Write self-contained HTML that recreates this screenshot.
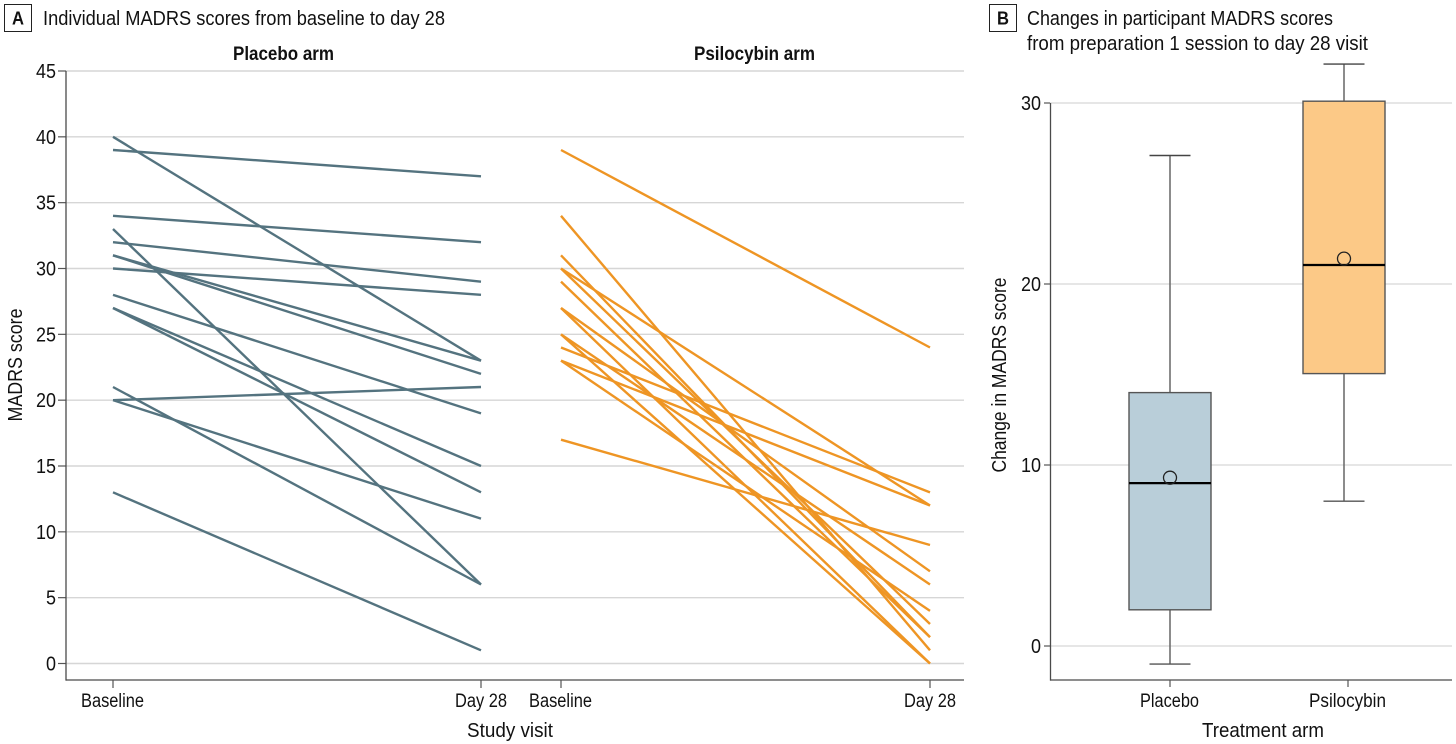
<!DOCTYPE html>
<html lang="en">
<head>
<meta charset="utf-8">
<title>MADRS scores</title>
<style>
html,body{margin:0;padding:0;background:#fff;}
svg{display:block;}
text{font-family:"Liberation Sans Narrow","Liberation Sans",sans-serif;fill:#111;}
</style>
</head>
<body>
<svg id="chart" width="1456" height="744" viewBox="0 0 1456 744" xmlns="http://www.w3.org/2000/svg"></svg>
<script>
// Panel A data
const placeboBaseline = [40, 39, 34, 33, 32, 31, 31, 30, 28, 27, 27, 21, 20, 20, 13];
const placeboDay28    = [23, 37, 32,  6, 29, 23, 22, 28, 19, 15, 13,  6, 21, 11,  1];
const psilocybinBaseline = [39, 34, 31, 30, 30, 29, 27, 27, 25, 25, 24, 23, 23, 17];
const psilocybinDay28    = [24,  1,  2, 12,  3,  2,  7,  0,  0,  6, 13, 12,  4,  9];
const scoreTicks = [0, 5, 10, 15, 20, 25, 30, 35, 40, 45];
const visitLabels = ['Baseline', 'Day 28'];

// Panel B data
const boxCategories = ['Placebo', 'Psilocybin'];
const boxWhiskerLow = [-1, 8];
const boxQ1 = [2, 15.05];
const boxMedian = [9, 21.05];
const boxMean = [9.3, 21.4];
const boxQ3 = [14, 30.1];
const boxWhiskerHigh = [27.1, 32.15];
const changeTicks = [0, 10, 20, 30];

const NS = 'http://www.w3.org/2000/svg';
const svg = document.getElementById('chart');

function scaleA(v) { return 663.5 - v * (592.5 / 45); }
function scaleB(v) { return 646 - v * (543 / 30); }
function placeboX(i) { return 113 + i * 368; }
function psilocybinX(i) { return 561 + i * 369; }
function boxX(i) { return 1170 + i * 174; }

function make(tag, attrs) {
  const el = document.createElementNS(NS, tag);
  for (const k in attrs) el.setAttribute(k, attrs[k]);
  svg.appendChild(el);
  return el;
}
function line(x1, y1, x2, y2, stroke, w) {
  return make('line', {x1: x1, y1: y1, x2: x2, y2: y2, stroke: stroke, 'stroke-width': w});
}
function label(str, x, y, anchor, size, width, weight) {
  const el = make('text', {x: x, y: y, 'text-anchor': anchor, 'font-size': size, textLength: width, lengthAdjust: 'spacingAndGlyphs'});
  if (weight) el.setAttribute('font-weight', weight);
  el.textContent = str;
  return el;
}

const GRID = '#d6d6d6', AXIS = '#4a4a4a', TICK = '#555';
const SLATE = '#54737f', ORANGE = '#ee9524';
let el;

// Panel badges and titles
el = make('rect', {x: 4.5, y: 4.5, width: 27, height: 27, fill: '#fff', stroke: '#222', 'stroke-width': 1});


el = label('A', 18, 24.5, 'middle', 18, 12, 'bold');


el = label('Individual MADRS scores from baseline to day 28', 43, 25, 'start', 20, 402);


el = make('rect', {x: 989.5, y: 4.5, width: 27, height: 27, fill: '#fff', stroke: '#222', 'stroke-width': 1});


el = label('B', 1003, 24.5, 'middle', 18, 12, 'bold');


el = label('Changes in participant MADRS scores', 1027, 25, 'start', 20, 306);


el = label('from preparation 1 session to day 28 visit', 1027, 50, 'start', 20, 341);


el = label('Placebo arm', 283.5, 60, 'middle', 19, 101, 'bold');


el = label('Psilocybin arm', 754.5, 60, 'middle', 19, 121, 'bold');



// Panel A grid and y axis
scoreTicks.forEach(function (t) {
  const y = scaleA(t);
  el = line(66, y, 964, y, GRID, 1.4);
  
  
  el = line(58, y, 66, y, TICK, 1.2);
  
  
  el = label(String(t), 56, y + 7, 'end', 20, String(t).length * 10);
  
  
});
el = line(66, 71, 66, 680.6, AXIS, 1.3);


el = line(66, 680, 964, 680, AXIS, 1.3);



// Panel A x ticks
[placeboX, psilocybinX].forEach(function (fx) {
  visitLabels.forEach(function (name, i) {
    const x = fx(i);
    el = line(x, 680, x, 688, TICK, 1.2);
    
    
    el = label(name, x - 0.5 + i * 0.5, 707, 'middle', 19, i === 0 ? 63 : 52);
    
    
  });
});

// Panel A series
placeboBaseline.forEach(function (v, i) {
  el = line(placeboX(0), scaleA(v), placeboX(1), scaleA(placeboDay28[i]), SLATE, 2.4);
  
  
});
psilocybinBaseline.forEach(function (v, i) {
  el = line(psilocybinX(0), scaleA(v), psilocybinX(1), scaleA(psilocybinDay28[i]), ORANGE, 2.4);
  
  
});

el = label('Study visit', 510, 737, 'middle', 20, 86);


el = label('MADRS score', 0, 0, 'middle', 20, 113);
el.setAttribute('transform', 'translate(22 365) rotate(-90)');



// Panel B grid and axes
changeTicks.forEach(function (t) {
  const y = scaleB(t);
  el = line(1050, y, 1452, y, GRID, 1.3);
  
  
  el = line(1044, y, 1050, y, TICK, 1.2);
  
  
  el = label(String(t), 1041, y + 7, 'end', 20, String(t).length * 10);
  
  
});
el = line(1050.5, 103, 1050.5, 680.6, AXIS, 1.3);


el = line(1050, 680, 1452, 680, AXIS, 1.3);



// Panel B boxes
const boxFills = ['#b9ced9', '#fcc987'];
boxCategories.forEach(function (name, i) {
  const cx = boxX(i);
  const half = 41, cap = 20.5;
  el = line(cx, scaleB(boxWhiskerHigh[i]), cx, scaleB(boxWhiskerLow[i]), '#6f6f6f', 1.6);
  
  
  el = line(cx - cap, scaleB(boxWhiskerHigh[i]), cx + cap, scaleB(boxWhiskerHigh[i]), '#444', 1.4);
  
  
  el = line(cx - cap, scaleB(boxWhiskerLow[i]), cx + cap, scaleB(boxWhiskerLow[i]), '#555', 1.4);
  
  
  el = make('rect', {x: cx - half, y: scaleB(boxQ3[i]), width: half * 2, height: scaleB(boxQ1[i]) - scaleB(boxQ3[i]), fill: boxFills[i], stroke: '#555', 'stroke-width': 1.4});
  
  
  el = line(cx - half, scaleB(boxMedian[i]), cx + half, scaleB(boxMedian[i]), '#000', 2.2);
  
  
  el = make('circle', {cx: cx, cy: scaleB(boxMean[i]), r: 6.5, fill: 'none', stroke: '#222', 'stroke-width': 1.3});
  
  
  const tx = cx + i * 4;
  el = line(tx, 680, tx, 687, TICK, 1.2);
  
  
  el = label(name, tx - 0.5, 707, 'middle', 19, i === 0 ? 59 : 77);
  
  
});

el = label('Treatment arm', 1263, 737, 'middle', 20, 122);


el = label('Change in MADRS score', 0, 0, 'middle', 20, 195);
el.setAttribute('transform', 'translate(1006 375) rotate(-90)');


</script>
</body>
</html>
